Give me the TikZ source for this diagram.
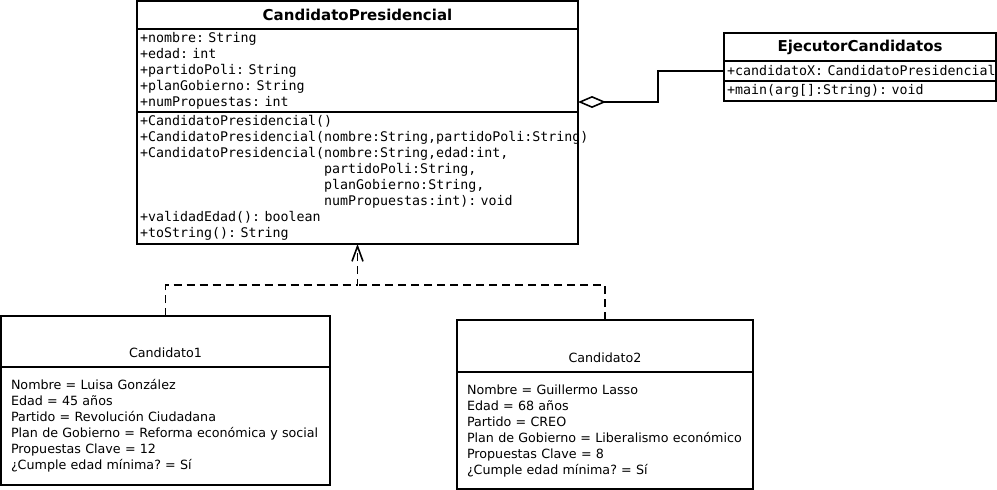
\documentclass[tikz,border=0pt]{standalone}
\usepackage{fontspec}
\setmainfont{DejaVu Sans}
\setmonofont{DejaVu Sans Mono}
\usetikzlibrary{arrows.meta,positioning}
\tikzset{
  >={Straight Barb[length=15pt,width=11pt]},
  umlbox/.style={
    rectangle,
    draw=black, line width=1.6pt,
    outer sep=0pt,
    inner xsep=3pt, inner ysep=0pt},
  classtitle/.style={
    umlbox,
    font=\fontsize{15}{18}\selectfont\bfseries,
    minimum height=28pt,
    anchor=north},
  members/.style={
    umlbox,
    font=\fontsize{13.3}{16}\selectfont\ttfamily\frenchspacing,
    align=left},
  objtitle/.style={
    umlbox,
    font=\fontsize{12.7}{16}\selectfont,
    text height=35pt, text depth=3pt,
    anchor=north},
  objbody/.style={
    umlbox,
    inner xsep=10pt,
    font=\fontsize{12.7}{16}\selectfont\frenchspacing,
    align=left},
  realiza/.style={line width=1.6pt, dash pattern=on 8pt off 5pt},
  agrega/.style={line width=1.6pt, {Diamond[open,length=28pt,width=12pt]}-},
}

\begin{document}
\begin{tikzpicture}[x=1pt, y=-1pt]

    \useasboundingbox[fill=white] (0,0) rectangle (997,490);

    %clase CandidatoPresidencial
    \node[classtitle, minimum width=441pt] (cptitle) at (357.5,1)
    {CandidatoPresidencial};
    \node[members, text width=435pt, minimum height=83pt,
    below=0pt of cptitle] (cpattr)
    {+nombre: String\\
     +edad: int\\
     +partidoPoli: String\\
     +planGobierno: String\\
     +numPropuestas: int};
    \node[members, text width=435pt, minimum height=132pt,
    below=0pt of cpattr] (cpmeth)
    {+CandidatoPresidencial()\\
     +CandidatoPresidencial(nombre:String,partidoPoli:String)\\
     +CandidatoPresidencial(nombre:String,edad:int,\\
     \phantom{+CandidatoPresidencial(}partidoPoli:String,\\
     \phantom{+CandidatoPresidencial(}planGobierno:String,\\
     \phantom{+CandidatoPresidencial(}numPropuestas:int): void\\
     +validadEdad(): boolean\\
     +toString(): String};

    %clase EjecutorCandidatos
    \node[classtitle, minimum width=272pt] (ejtitle) at (860,33)
    {EjecutorCandidatos};
    \node[members, text width=266pt, minimum height=20pt,
    below=0pt of ejtitle] (ejattr)
    {\mbox{+candidatoX: CandidatoPresidencial}};
    \node[members, text width=266pt, minimum height=20pt,
    below=0pt of ejattr] (ejmeth)
    {+main(arg[]:String): void};

    %objetos
    \node[objtitle, minimum width=329pt, minimum height=51pt] (c1title)
    at (165.5,316) {Candidato1};
    \node[objbody, text width=309pt, minimum height=118pt,
    below=0pt of c1title] (c1body)
    {Nombre = Luisa González\\
     Edad = 45 años\\
     Partido = Revolución Ciudadana\\
     Plan de Gobierno = Reforma económica y social\\
     Propuestas Clave = 12\\
     ¿Cumple edad mínima? = Sí};

    \node[objtitle, minimum width=296pt, minimum height=52pt] (c2title)
    at (605,320) {Candidato2};
    \node[objbody, text width=276pt, minimum height=117pt,
    below=0pt of c2title] (c2body)
    {Nombre = Guillermo Lasso\\
     Edad = 68 años\\
     Partido = CREO\\
     Plan de Gobierno = Liberalismo económico\\
     Propuestas Clave = 8\\
     ¿Cumple edad mínima? = Sí};

    %relaciones
    \coordinate (fork) at (357.5,285);
    \draw[realiza, ->] (c1title.north) |- (fork) -- (cpmeth.south);
    \draw[realiza] (c2title.north) |- (fork);

    \draw[agrega] ([yshift=10pt]cpattr.south east) -- ++(80,0) |- (ejattr.west);

\end{tikzpicture}
\end{document}
